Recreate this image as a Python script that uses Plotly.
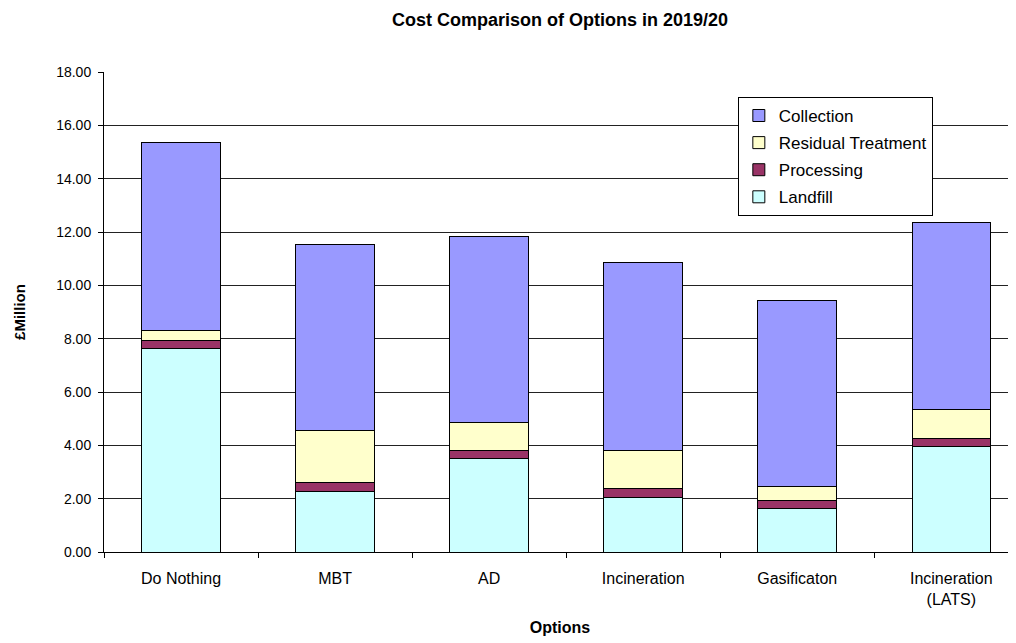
import plotly.graph_objects as go

categories = ["Do Nothing", "MBT", "AD", "Incineration", "Gasificaton", "Incineration<br>(LATS)"]
landfill = [7.65, 2.26, 3.52, 2.05, 1.64, 3.95]
processing = [0.30, 0.34, 0.30, 0.34, 0.31, 0.32]
residual = [0.34, 1.94, 1.03, 1.43, 0.50, 1.06]
collection = [7.06, 7.01, 7.00, 7.03, 7.00, 7.04]
y_ticks = [0, 2, 4, 6, 8, 10, 12, 14, 16, 18]

series = [
    ("Landfill", landfill, "#CCFFFF", 4),
    ("Processing", processing, "#993366", 3),
    ("Residual Treatment", residual, "#FFFFCC", 2),
    ("Collection", collection, "#9999FF", 1),
]

font = "Liberation Sans, Arial, sans-serif"
fig = go.Figure()
for name, vals, col, rank in series:
    fig.add_trace(go.Bar(
        x=categories, y=vals, name=name, legendgroup=name, legendrank=rank,
        marker=dict(color=col, line=dict(color="black", width=1)),
        width=0.51,
    ))

fig.update_layout(
    width=1008, height=635,
    barmode="stack",
    plot_bgcolor="white", paper_bgcolor="white",
    font=dict(family=font, size=14, color="black"),
    margin=dict(l=96, r=0, t=64, b=91),
    title=dict(text="<b>Cost Comparison of Options in 2019/20</b>", x=0.5, xanchor="center",
               xref="paper", y=0.981, yanchor="middle", font=dict(size=18)),
    legend=dict(x=0.695, y=0.948, xanchor="left", yanchor="top",
                traceorder="grouped", tracegroupgap=2,
                bordercolor="black", borderwidth=1, bgcolor="white",
                font=dict(size=17), itemwidth=30),
    showlegend=True,
)
fig.update_xaxes(
    range=[-0.5, 5.42], showline=True, linecolor="black", linewidth=1,
    ticks="outside", tickson="boundaries", ticklen=5, tickcolor="black",
    ticklabelstandoff=12,
    title=dict(text="<b>Options</b>", font=dict(size=16), standoff=14),
    tickfont=dict(size=16),
)
fig.update_yaxes(
    range=[0, 18], tickvals=y_ticks, tickformat=".2f",
    showline=True, linecolor="black", linewidth=1, mirror=False,
    ticks="outside", ticklen=5, tickcolor="black",
    ticklabelstandoff=4,
    showgrid=True, gridcolor="#222222", gridwidth=1,
    title=dict(text="<b>£Million</b>", font=dict(size=15), standoff=26),
    tickfont=dict(size=14), zeroline=False,
)
fig.write_html("out.html")
